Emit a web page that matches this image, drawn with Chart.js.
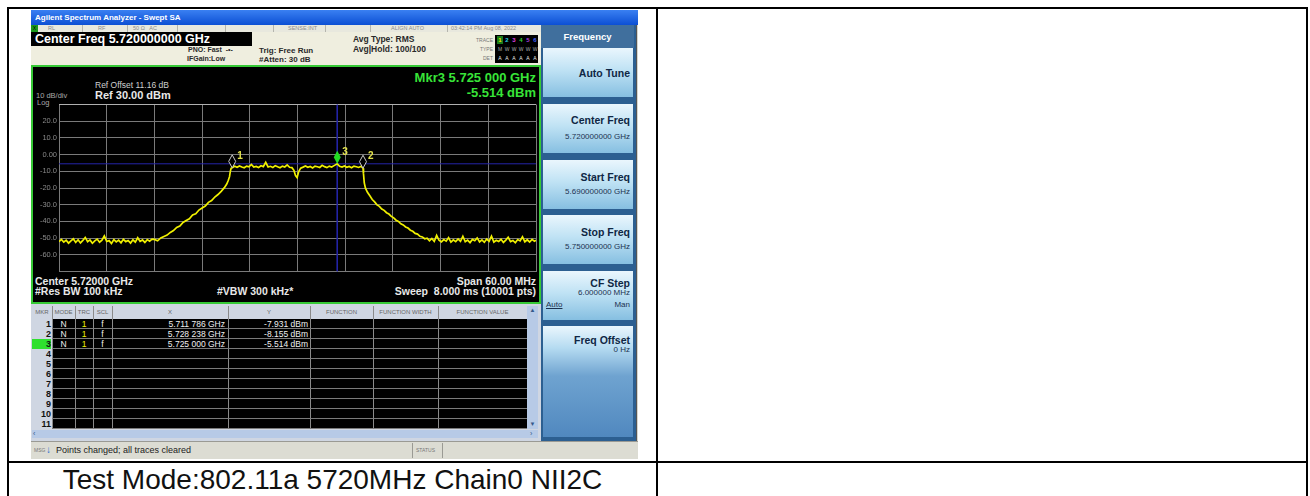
<!DOCTYPE html>
<html>
<head>
<meta charset="utf-8">
<title>Swept SA</title>
<script src="https://cdn.jsdelivr.net/npm/chart.js@4.4.1/dist/chart.umd.min.js"></script>
<style>
  body { margin: 0; width: 1310px; height: 496px; overflow: hidden; background: #fff; position: relative;
         font-family: Arial, "Liberation Sans", sans-serif; }
  .a { position: absolute; white-space: nowrap; }
  .ln { position: absolute; background: #000; }
  .st { position: absolute; top: 25px; height: 7px; line-height: 7px; font-size: 5.5px; color: #8c8c8c; white-space: nowrap; }
  .sep { position: absolute; top: 25px; width: 1px; height: 7px; background: #b5b5ad; }
  .inf { position: absolute; font-weight: bold; color: #2a2a2a; white-space: nowrap; line-height: 10px; }
  .sk { position: absolute; left: 543px; width: 90px; height: 49px;
        background: linear-gradient(#eaf6fd, #bfe2f4 45%, #86bfe1); }
  .skt { position: absolute; right: 3px; font-weight: bold; font-size: 10.5px; line-height: 12px; color: #0f2744; white-space: nowrap; }
  .skv { position: absolute; right: 3px; font-size: 8px; line-height: 10px; color: #1c3250; white-space: nowrap; }
  .pl { position: absolute; white-space: nowrap; color: #e8e8e8; }
  .th { position: absolute; top: 306px; height: 12px; line-height: 12px; font-size: 6px; color: #666; text-align: center; }
  .cell { position: absolute; height: 10px; line-height: 10px; font-size: 8.5px; color: #f0f0f0; white-space: nowrap; }
</style>
</head>
<body>

<!-- table frame -->
<div class="ln" style="left:7px;top:7px;width:1301px;height:2px"></div>
<div class="ln" style="left:7px;top:7px;width:2px;height:489px"></div>
<div class="ln" style="left:1306px;top:7px;width:2px;height:489px"></div>
<div class="ln" style="left:656px;top:7px;width:2px;height:489px"></div>
<div class="ln" style="left:7px;top:461px;width:1301px;height:2px"></div>
<div class="a" style="left:9px;width:647px;top:463px;height:33px;line-height:34px;text-align:center;font-size:28px;color:#111">Test Mode:802.11a 5720MHz Chain0 NII2C</div>

<!-- analyzer screenshot -->
<div class="a" style="left:31px;top:10px;width:607px;height:449px;background:#d6d6ce"></div>
<div class="a" style="left:31px;top:10px;width:607px;height:15px;background:linear-gradient(#3a80f2,#0c4fd4)"></div>
<div class="a" style="left:35px;top:10px;height:15px;line-height:15px;font-size:8px;font-weight:bold;color:#fff">Agilent Spectrum Analyzer - Swept SA</div>

<div class="a" style="left:31px;top:25px;width:510px;height:7px;background:#e8e8de"></div>
<div class="a" style="left:31px;top:25px;width:7px;height:7px;background:#1c9a1c;font-size:5px;line-height:7px;color:#000;text-align:center">X</div>
<div class="st" style="left:48px">RL</div>
<div class="sep" style="left:82px"></div>
<div class="st" style="left:98px">RF</div>
<div class="sep" style="left:127px"></div>
<div class="st" style="left:133px">50 Ω&nbsp;&nbsp;&nbsp;AC</div>
<div class="sep" style="left:177px"></div>
<div class="sep" style="left:225px"></div>
<div class="sep" style="left:273px"></div>
<div class="st" style="left:288px">SENSE:INT</div>
<div class="sep" style="left:325px"></div>
<div class="sep" style="left:370px"></div>
<div class="st" style="left:391px">ALIGN AUTO</div>
<div class="sep" style="left:447px"></div>
<div class="st" style="left:451px">03:42:14 PM Aug 08, 2022</div>

<div class="a" style="left:31px;top:32px;width:510px;height:33px;background:#efeedf"></div>
<div class="a" style="left:31px;top:32px;width:221px;height:14px;background:#000;color:#fff;font-weight:bold;font-size:12.5px;line-height:14px;padding-left:4px;box-sizing:border-box">Center Freq 5.720000000 GHz</div>
<div class="inf" style="left:188px;top:45px;font-size:7px">PNO: Fast &nbsp;-•-</div>
<div class="inf" style="left:187px;top:54px;font-size:7px">IFGain:Low</div>
<div class="inf" style="left:259px;top:46px;font-size:8px">Trig: Free Run</div>
<div class="inf" style="left:259px;top:55px;font-size:8px">#Atten: 30 dB</div>
<div class="inf" style="left:353px;top:34px;font-size:8.5px">Avg Type: RMS</div>
<div class="inf" style="left:353px;top:44px;font-size:8.5px">Avg|Hold: 100/100</div>
<div class="inf" style="left:460px;width:33px;text-align:right;top:36px;font-size:5px;color:#777;font-weight:normal;line-height:8px">TRACE</div>
<div class="inf" style="left:460px;width:33px;text-align:right;top:45px;font-size:5px;color:#777;font-weight:normal;line-height:8px">TYPE</div>
<div class="inf" style="left:460px;width:33px;text-align:right;top:54px;font-size:5px;color:#777;font-weight:normal;line-height:8px">DET</div>
<div class="a" id="trbox" style="left:495px;top:35px;width:43px;height:28px;background:#000"></div>

<!-- plot frame -->
<div class="a" style="left:31px;top:65px;width:510px;height:239px;background:#000;border:2px solid #36c936;box-sizing:border-box"></div>
<div class="pl" style="left:95px;top:80px;font-size:8.5px;line-height:10px;color:#cfcfcf">Ref Offset 11.16 dB</div>
<div class="pl" style="left:95px;top:89px;font-size:11px;line-height:12px;font-weight:bold">Ref 30.00 dBm</div>
<div class="pl" style="left:36px;top:92px;font-size:7.5px;line-height:8px;color:#a8a8a8">10 dB/div</div>
<div class="pl" style="left:37px;top:99px;font-size:7.5px;line-height:8px;color:#a8a8a8">Log</div>
<div class="pl" style="right:774px;top:71px;font-size:13px;line-height:14px;font-weight:bold;color:#38e438">Mkr3 5.725 000 GHz</div>
<div class="pl" style="right:774px;top:86px;font-size:13px;line-height:14px;font-weight:bold;color:#38e438">-5.514 dBm</div>
<div class="pl" style="left:35px;top:275px;font-size:10.5px;line-height:12px;font-weight:bold">Center 5.72000 GHz</div>
<div class="pl" style="left:35px;top:285px;font-size:10.5px;line-height:12px;font-weight:bold">#Res BW 100 kHz</div>
<div class="pl" style="left:217px;top:285px;font-size:10.5px;line-height:12px;font-weight:bold">#VBW 300 kHz*</div>
<div class="pl" style="right:774px;top:275px;font-size:10.5px;line-height:12px;font-weight:bold">Span 60.00 MHz</div>
<div class="pl" style="right:774px;top:285px;font-size:10.5px;line-height:12px;font-weight:bold">Sweep&nbsp; 8.000 ms (10001 pts)</div>
<canvas id="trace" class="a" style="left:33px;top:98px" width="505" height="180"></canvas>

<!-- marker table -->
<div class="a" style="left:31px;top:304px;width:510px;height:137px;background:#cfd6e2"></div>
<div id="mkt"></div>
<div class="a" style="left:527px;top:306px;width:11px;height:123px;background:#b7cae6"></div>
<div class="a" style="left:527px;top:306px;width:11px;height:9px;font-size:6px;line-height:9px;text-align:center;color:#35588a">▲</div>
<div class="a" style="left:527px;top:420px;width:11px;height:9px;font-size:6px;line-height:9px;text-align:center;color:#35588a">▼</div>
<div class="a" style="left:32px;top:430px;width:506px;height:8px;background:#b7cae6"></div>
<div class="a" style="left:33px;top:430px;font-size:7px;line-height:8px;color:#35588a">‹</div>
<div class="a" style="left:530px;top:430px;font-size:7px;line-height:8px;color:#35588a">›</div>

<!-- softkeys -->
<div class="a" style="left:541px;top:25px;width:96px;height:416px;background:#2c5f91;border-right:1px solid #555;box-sizing:border-box"></div>
<div class="a" style="left:541px;top:25px;width:93px;height:23px;background:#406f9d;color:#fff;font-weight:bold;font-size:9.5px;line-height:23px;text-align:center">Frequency</div>
<div class="sk" style="top:48px"><div class="skt" style="top:19px">Auto Tune</div></div>
<div class="sk" style="top:104px"><div class="skt" style="top:10px">Center Freq</div><div class="skv" style="top:28px">5.720000000 GHz</div></div>
<div class="sk" style="top:160px"><div class="skt" style="top:11px">Start Freq</div><div class="skv" style="top:27px">5.690000000 GHz</div></div>
<div class="sk" style="top:215px"><div class="skt" style="top:11px">Stop Freq</div><div class="skv" style="top:27px">5.750000000 GHz</div></div>
<div class="sk" style="top:271px"><div class="skt" style="top:6px">CF Step</div><div class="skv" style="top:17px">6.000000 MHz</div>
  <div class="skv" style="top:29px;left:3px;right:auto;text-decoration:underline">Auto</div><div class="skv" style="top:29px">Man</div></div>
<div class="sk" style="top:326px;height:111px;background:linear-gradient(#eaf6fd,#b5dbf1 22px,#6fa3d0 50px,#5088bf)"><div class="skt" style="top:8px">Freq Offset</div><div class="skv" style="top:19px">0 Hz</div></div>

<!-- status bar -->
<div class="a" style="left:31px;top:441px;width:607px;height:18px;background:#dcdcd3;border-top:1px solid #9a9a94;box-sizing:border-box"></div>
<div class="a" style="left:34px;top:442px;font-size:5px;line-height:16px;color:#777">MSG</div>
<div class="a" style="left:46px;top:442px;font-size:10px;line-height:16px;color:#2a6fd0;font-weight:bold">↓</div>
<div class="a" style="left:56px;top:442px;font-size:9px;line-height:16px;color:#222">Points changed; all traces cleared</div>
<div class="a" style="left:412px;top:443px;width:1px;height:15px;background:#9a9a94"></div>
<div class="a" style="left:416px;top:442px;font-size:5px;line-height:16px;color:#777">STATUS</div>
<div class="a" style="left:442px;top:443px;width:1px;height:15px;background:#9a9a94"></div>

<script>
// sweep settings
const startGHz = 5.69, stopGHz = 5.75;
const xGridMHz = [0, 6, 12, 18, 24, 30, 36, 42, 48, 54, 60];
const yTicks = [30, 20, 10, 0, -10, -20, -30, -40, -50, -60, -70];
const yTickText = ['', '20.0', '10.0', '0.00', '-10.0', '-20.0', '-30.0', '-40.0', '-50.0', '-60.0', ''];

// trace 1: [MHz above start, dBm]
const floorLeft = [[0,-52.1],[0.3,-50.8],[0.6,-52.4],[0.9,-51.2],[1.2,-53.0],[1.5,-51.6],[1.8,-50.4],[2.1,-52.6],
  [2.4,-51.0],[2.7,-52.9],[3.0,-51.4],[3.3,-49.6],[3.6,-52.2],[3.9,-51.1],[4.2,-53.1],[4.5,-51.7],[4.8,-50.6],
  [5.1,-52.5],[5.4,-51.3],[5.7,-48.7],[6.0,-52.0],[6.3,-51.5],[6.6,-53.2],[6.9,-50.9],[7.2,-52.3],[7.5,-51.2],
  [7.8,-52.8],[8.1,-50.7],[8.4,-52.1],[8.7,-51.4],[9.0,-53.0],[9.3,-51.0],[9.6,-52.4],[9.9,-49.8],[10.2,-52.0],
  [10.5,-51.1],[10.8,-52.6],[11.1,-50.9],[11.4,-51.8],[11.7,-50.6]];
const riseLeft = [[12.0,-50.8],[12.4,-51.6],[12.8,-49.9],[13.2,-49.0],[13.6,-48.2],[14.0,-46.6],[14.4,-45.5],
  [14.8,-43.6],[15.2,-42.8],[15.6,-40.6],[16.0,-39.5],[16.4,-38.4],[16.8,-36.1],[17.2,-35.4],[17.6,-33.2],
  [18.0,-32.0],[18.4,-30.8],[18.8,-28.6],[19.2,-27.5],[19.6,-25.4],[20.0,-23.9],[20.4,-22.0],[20.8,-19.8],
  [21.1,-17.6],[21.3,-15.4],[21.45,-13.2],[21.55,-10.0],[21.65,-8.2]];
const plateau = [[21.79,-7.93],[22.1,-7.0],[22.4,-7.6],[22.7,-6.8],[23.0,-7.4],[23.3,-7.9],[23.6,-6.9],[23.9,-7.3],
  [24.2,-5.9],[24.5,-7.5],[24.8,-7.1],[25.1,-7.8],[25.4,-6.7],[25.7,-7.2],[26.0,-4.6],[26.3,-7.4],[26.6,-7.0],
  [26.9,-7.7],[27.2,-6.6],[27.5,-7.3],[27.8,-7.9],[28.1,-6.9],[28.4,-7.4],[28.7,-6.2],[29.0,-7.6],[29.3,-7.8],
  [29.55,-9.4],[29.75,-12.6],[29.95,-13.8],[30.15,-10.2],[30.4,-8.1],[30.7,-7.5],[31.0,-6.8],[31.3,-7.6],
  [31.6,-7.1],[31.9,-8.0],[32.2,-6.9],[32.5,-7.3],[32.8,-7.7],[33.1,-6.4],[33.4,-7.2],[33.7,-7.8],[34.0,-6.9],
  [34.3,-7.4],[34.6,-6.6],[35.0,-5.51],[35.3,-7.0],[35.6,-7.5],[35.9,-6.8],[36.2,-7.6],[36.5,-7.1],[36.8,-7.9],
  [37.1,-6.9],[37.4,-7.3],[37.7,-7.7],[38.0,-7.0],[38.24,-8.16]];
const fallRight = [[38.3,-11.5],[38.4,-17.0],[38.55,-20.1],[38.8,-22.6],[39.1,-24.7],[39.4,-26.9],[39.7,-28.3],
  [40.0,-30.1],[40.3,-31.0],[40.6,-32.6],[40.9,-33.4],[41.2,-34.8],[41.5,-35.6],[41.8,-37.0],[42.1,-37.9],
  [42.4,-39.3],[42.7,-40.0],[43.0,-41.4],[43.3,-42.1],[43.6,-43.3],[43.9,-44.0],[44.2,-45.3],[44.5,-45.9],
  [44.8,-47.2],[45.1,-47.6],[45.4,-48.9],[45.7,-49.3],[46.0,-50.4],[46.3,-50.1]];
const floorRight = [[46.6,-51.6],[46.9,-50.2],[47.2,-52.0],[47.5,-48.4],[47.8,-51.3],[48.1,-52.3],[48.4,-50.9],
  [48.7,-51.8],[49.0,-49.7],[49.3,-52.4],[49.6,-51.0],[49.9,-52.1],[50.2,-50.5],[50.5,-51.9],[50.8,-48.9],
  [51.1,-52.2],[51.4,-51.2],[51.7,-52.7],[52.0,-50.8],[52.3,-51.6],[52.6,-49.9],[52.9,-52.3],[53.2,-51.1],
  [53.5,-52.5],[53.8,-50.6],[54.1,-51.9],[54.4,-48.8],[54.7,-52.4],[55.0,-51.3],[55.3,-52.0],[55.6,-50.7],
  [55.9,-52.6],[56.2,-51.2],[56.5,-49.5],[56.8,-52.1],[57.1,-51.4],[57.4,-52.8],[57.7,-50.9],[58.0,-51.7],
  [58.3,-49.2],[58.6,-52.2],[58.9,-51.0],[59.2,-52.4],[59.5,-50.8],[59.8,-51.9],[60.0,-51.3]];

// markers
const markerNames = ['1', '2', '3'];
const markerGHz = [5.711786, 5.728238, 5.725];
const markerDbm = [-7.931, -8.155, -5.514];
const markerXText = ['5.711 786 GHz', '5.728 238 GHz', '5.725 000 GHz'];
const markerYText = ['-7.931 dBm', '-8.155 dBm', '-5.514 dBm'];
const markerMode = ['N', 'N', 'N'];
const markerTrace = ['1', '1', '1'];
const markerScale = ['f', 'f', 'f'];
const activeMarker = 2;
const displayLineDbm = -5.514;
const rowNumbers = ['1','2','3','4','5','6','7','8','9','10','11'];
const traceColors = ['#e8e800', '#2ad2e8', '#e040e0', '#30d030', '#b040e0', '#4060ff'];

// trace indicator box
const trbox = document.getElementById('trbox');
traceColors.forEach(function (c, i) {
  trbox.insertAdjacentHTML('beforeend',
    '<div class="a" style="left:' + (2 + i * 7) + 'px;top:1px;width:6px;font-size:6px;line-height:8px;text-align:center;font-weight:bold;color:' + c + (i == 0 ? ';background:#1a7a1a' : '') + '">' + (i + 1) + '</div>' +
    '<div class="a" style="left:' + (2 + i * 7) + 'px;top:10px;width:6px;font-size:5px;line-height:8px;text-align:center;color:#aaa">' + (i == 0 ? 'M' : 'W') + '</div>' +
    '<div class="a" style="left:' + (2 + i * 7) + 'px;top:19px;width:6px;font-size:5px;line-height:8px;text-align:center;color:#eee">A</div>');
});

// marker table
var cols = [32, 52, 75, 93, 112, 228, 310, 373, 438, 527];
var heads = ['MKR', 'MODE', 'TRC', 'SCL', 'X', 'Y', 'FUNCTION', 'FUNCTION WIDTH', 'FUNCTION VALUE'];
var html = '<div class="a" style="left:52px;top:319px;width:475px;height:110px;background:#000"></div>';
heads.forEach(function (h, i) {
  html += '<div class="th" style="left:' + cols[i] + 'px;width:' + (cols[i + 1] - cols[i]) + 'px">' + h + '</div>';
  if (i > 0) html += '<div class="a" style="left:' + cols[i] + 'px;top:306px;width:1px;height:123px;background:#8a8a8a"></div>';
});
rowNumbers.forEach(function (n, r) {
  var top = 319 + r * 10;
  html += '<div class="a" style="left:52px;top:' + (top + 9) + 'px;width:475px;height:1px;background:#7a7a7a"></div>';
  html += '<div class="cell" style="left:32px;top:' + top + 'px;width:19px;text-align:right;color:#111;font-weight:bold;font-size:9px' +
    (r == activeMarker ? ';background:#2ee02e' : '') + '">' + n + '</div>';
  if (r < markerXText.length) {
    html += '<div class="cell" style="left:52px;top:' + top + 'px;width:23px;text-align:center">' + markerMode[r] + '</div>';
    html += '<div class="cell" style="left:75px;top:' + top + 'px;width:18px;text-align:center;color:#f0f000">' + markerTrace[r] + '</div>';
    html += '<div class="cell" style="left:93px;top:' + top + 'px;width:19px;text-align:center">' + markerScale[r] + '</div>';
    html += '<div class="cell" style="left:112px;top:' + top + 'px;width:113px;text-align:right">' + markerXText[r] + '</div>';
    html += '<div class="cell" style="left:228px;top:' + top + 'px;width:80px;text-align:right">' + markerYText[r] + '</div>';
  }
});
document.getElementById('mkt').innerHTML = html;

// spectrum trace
var trace = [].concat(floorLeft, riseLeft, plateau, fallRight, floorRight).map(function (p) {
  return { x: startGHz + p[0] / 1000, y: p[1] };
});

var markerPlugin = {
  id: 'markers',
  afterDatasetsDraw: function (chart) {
    var ctx = chart.ctx, x = chart.scales.x, y = chart.scales.y;
    markerGHz.forEach(function (f, i) {
      var px = x.getPixelForValue(f), py = y.getPixelForValue(markerDbm[i]);
      ctx.save();
      ctx.beginPath();
      ctx.moveTo(px, py);
      ctx.lineTo(px + 3.5, py - 6.5);
      ctx.lineTo(px, py - 13);
      ctx.lineTo(px - 3.5, py - 6.5);
      ctx.closePath();
      if (i == activeMarker) {
        ctx.fillStyle = '#22dd22';
        ctx.fill();
      } else {
        ctx.fillStyle = '#000';
        ctx.fill();
        ctx.strokeStyle = '#c8c8c8';
        ctx.lineWidth = 1;
        ctx.stroke();
      }
      ctx.fillStyle = '#e2e24a';
      ctx.font = 'bold 10px "Liberation Sans", Arial';
      ctx.fillText(markerNames[i], px + 5, py - 9);
      ctx.restore();
    });
  }
};

Chart.defaults.font.family = '"Liberation Sans", Arial, sans-serif';
new Chart(document.getElementById('trace'), {
  type: 'line',
  data: {
    datasets: [
      { data: trace, borderColor: '#f0f000', borderWidth: 1.7, pointRadius: 0, tension: 0 },
      { data: [{ x: startGHz, y: displayLineDbm }, { x: stopGHz, y: displayLineDbm }], borderColor: '#2424a8', borderWidth: 1, pointRadius: 0 },
      { data: [{ x: markerGHz[activeMarker], y: 30 }, { x: markerGHz[activeMarker], y: -70 }], borderColor: '#2424a8', borderWidth: 1, pointRadius: 0 }
    ]
  },
  options: {
    responsive: false,
    animation: false,
    events: [],
    layout: { padding: { left: 0, right: 2, top: 5, bottom: 6 } },
    plugins: { legend: { display: false }, tooltip: { enabled: false } },
    scales: {
      x: {
        type: 'linear', min: startGHz, max: stopGHz,
        afterBuildTicks: function (s) { s.ticks = xGridMHz.map(function (m) { return { value: startGHz + m / 1000 }; }); },
        afterFit: function (s) { s.height = 0; },
        ticks: { display: false },
        grid: { color: '#7a7a7a', lineWidth: 1, drawTicks: false },
        border: { display: false }
      },
      y: {
        type: 'linear', min: -70, max: 30,
        afterBuildTicks: function (s) { s.ticks = yTicks.map(function (v) { return { value: v }; }); },
        afterFit: function (s) { s.width = 26; },
        ticks: { callback: function (v) { return yTickText[yTicks.indexOf(v)]; }, color: '#8a8a8a', font: { size: 7.5 }, padding: 2 },
        grid: { color: function (c) { return c.tick && c.tick.value === 30 ? '#b0b0b0' : '#7a7a7a'; }, drawTicks: false },
        border: { display: false }
      }
    }
  },
  plugins: [markerPlugin]
});
</script>
</body>
</html>
